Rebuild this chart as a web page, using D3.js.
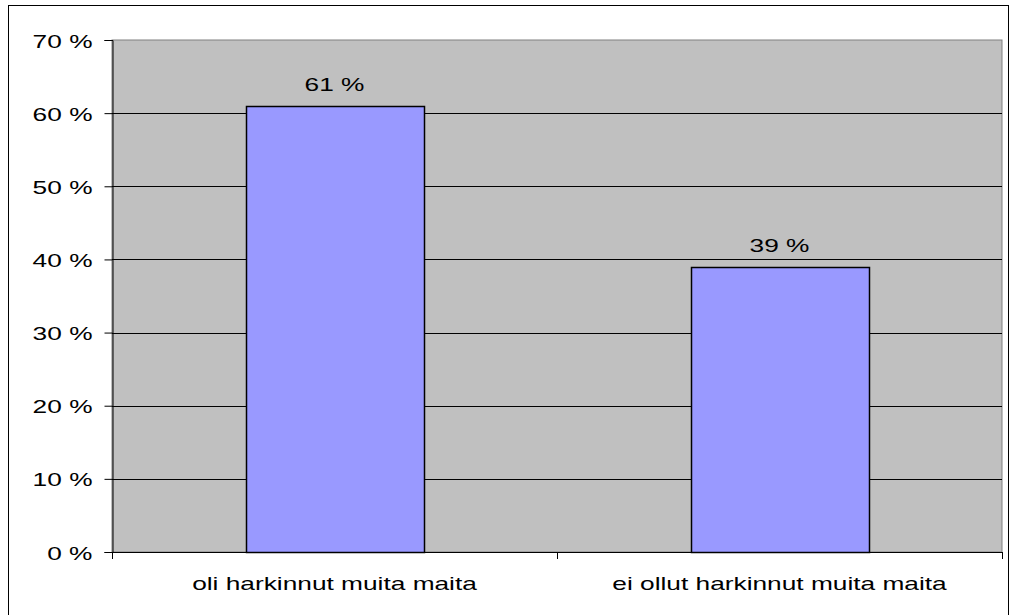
<!DOCTYPE html>
<html>
<head>
<meta charset="utf-8">
<script src="https://cdn.jsdelivr.net/npm/d3@7"></script>
<style>
  body { margin: 0; background: #fff; }
  text { font-family: "Liberation Sans", Arial, sans-serif; fill: #000; }
</style>
</head>
<body>
<div id="chart"></div>
<script>
// Chart data:
const categories = ['oli harkinnut muita maita', 'ei ollut harkinnut muita maita'];
const values = [61, 39];
const yTicks = [0, 10, 20, 30, 40, 50, 60, 70];

// Canvas Dimensions:
const svgWidth = 1013;
const svgHeight = 615;

// Plot area:
const plot = { left: 112, top: 40, right: 1002, bottom: 552 };

// the reference text is horizontally stretched
const stretch = 1.46;
const fontSize = '18px';

let svg = d3.select('#chart')
            .append('svg')
            .attr('width', svgWidth)
            .attr('height', svgHeight);

// outer frame
svg.append('rect')
   .attr('x', 8.5).attr('y', 5.5)
   .attr('width', 1000).attr('height', 620)
   .attr('fill', 'none')
   .attr('stroke', '#000')
   .attr('stroke-width', 1);

// scales
let x = d3.scaleBand()
          .domain(categories)
          .range([plot.left, plot.right])
          .paddingInner(0.6)
          .paddingOuter(0.3);

let y = d3.scaleLinear()
          .domain([0, 70])
          .range([plot.bottom, plot.top]);

// helper: stretched text anchored at (px, py)
function stretchedText(sel, px, py) {
    sel.attr('x', 0).attr('y', 0)
       .attr('transform', (d, i) => `translate(${px(d, i)}, ${py(d, i)}) scale(${stretch}, 1)`)
       .style('font-size', fontSize);
}

// plot background
svg.append('rect')
   .attr('x', plot.left).attr('y', plot.top)
   .attr('width', plot.right - plot.left)
   .attr('height', plot.bottom - plot.top)
   .attr('fill', '#c0c0c0')
   .attr('stroke', '#808080')
   .attr('stroke-width', 1);

// gridlines
svg.append('g')
   .selectAll('line')
   .data(yTicks.filter(d => d > 0 && d < 70))
   .join('line')
   .attr('x1', plot.left).attr('x2', plot.right)
   .attr('y1', d => Math.round(y(d)) + 0.5)
   .attr('y2', d => Math.round(y(d)) + 0.5)
   .attr('stroke', '#000')
   .attr('stroke-width', 1);

// bars
svg.append('g')
   .selectAll('rect')
   .data(values)
   .join('rect')
   .attr('x', (d, i) => Math.round(x(categories[i])) + 0.5)
   .attr('y', d => Math.round(y(d)) + 0.5)
   .attr('width', x.bandwidth())
   .attr('height', d => y(0) - Math.round(y(d)))
   .attr('fill', '#9999ff')
   .attr('stroke', '#000')
   .attr('stroke-width', 1.5);

// value labels
svg.append('g')
   .selectAll('text')
   .data(values)
   .join('text')
   .attr('text-anchor', 'middle')
   .call(stretchedText,
         (d, i) => x(categories[i]) + x.bandwidth() / 2,
         d => y(d) - 15)
   .text(d => d + ' %');

// left axis
let leftAxis = d3.axisLeft(y)
                 .tickValues(yTicks)
                 .tickSize(8)
                 .tickFormat(d => d + ' %');

let yAxis = svg.append('g')
               .attr('transform', `translate(${plot.left + 0.5}, 0)`)
               .call(leftAxis);
yAxis.select('.domain').attr('stroke', '#000');
yAxis.selectAll('.tick line').attr('stroke', '#000');
yAxis.selectAll('.tick text')
     .attr('dy', null)
     .style('font-family', '"Liberation Sans", Arial, sans-serif')
     .call(stretchedText, () => -20, () => 7);

// bottom axis: ticks at category boundaries
let step = (plot.right - plot.left) / categories.length;
let boundaries = d3.range(categories.length + 1).map(i => plot.left + i * step);

svg.append('line')
   .attr('x1', plot.left).attr('x2', plot.right)
   .attr('y1', plot.bottom + 0.5).attr('y2', plot.bottom + 0.5)
   .attr('stroke', '#000');

svg.append('g')
   .selectAll('line')
   .data(boundaries)
   .join('line')
   .attr('x1', d => Math.round(d) + 0.5).attr('x2', d => Math.round(d) + 0.5)
   .attr('y1', plot.bottom).attr('y2', plot.bottom + 7)
   .attr('stroke', '#000');

// category labels
svg.append('g')
   .selectAll('text')
   .data(categories)
   .join('text')
   .attr('text-anchor', 'middle')
   .call(stretchedText, d => x(d) + x.bandwidth() / 2, () => 590)
   .text(d => d);
</script>
</body>
</html>
